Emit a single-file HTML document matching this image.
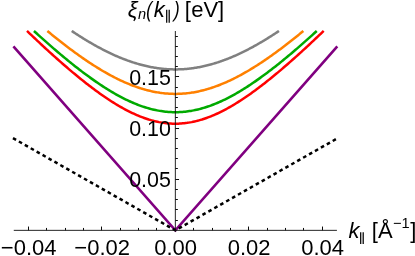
<!DOCTYPE html>
<html><head><meta charset="utf-8"><title>plot</title>
<style>html,body{margin:0;padding:0;background:#fff;}body{width:415px;height:256px;overflow:hidden;}svg{display:block;will-change:transform;opacity:0.999;}text{font-family:"Liberation Sans",sans-serif;fill:#000;}</style>
</head><body>
<svg width="415" height="256" viewBox="0 0 415 256">
<rect width="415" height="256" fill="#fff"/>
<path d="M13.40 46.41 L175.35 230.35 L337.30 46.41" fill="none" stroke="#800080" stroke-width="2.60" stroke-linejoin="miter"/>
<path d="M12.96 138.13 L175.35 230.35 L336.49 138.84" fill="none" stroke="#000" stroke-width="2.5" stroke-dasharray="3.6 3.21" stroke-linejoin="miter"/>
<path d="M27.02 30.96 L28.50 32.38 L29.99 33.80 L31.47 35.21 L32.95 36.62 L34.44 38.03 L35.92 39.43 L37.40 40.82 L38.89 42.21 L40.37 43.60 L41.85 44.98 L43.34 46.35 L44.82 47.72 L46.30 49.09 L47.79 50.45 L49.27 51.80 L50.75 53.15 L52.24 54.49 L53.72 55.83 L55.20 57.16 L56.69 58.48 L58.17 59.80 L59.65 61.11 L61.14 62.42 L62.62 63.72 L64.10 65.01 L65.59 66.29 L67.07 67.57 L68.55 68.84 L70.04 70.10 L71.52 71.35 L73.00 72.60 L74.49 73.83 L75.97 75.06 L77.45 76.28 L78.94 77.49 L80.42 78.70 L81.90 79.89 L83.39 81.07 L84.87 82.25 L86.35 83.41 L87.84 84.57 L89.32 85.71 L90.80 86.84 L92.29 87.96 L93.77 89.07 L95.25 90.17 L96.73 91.26 L98.22 92.34 L99.70 93.40 L101.18 94.45 L102.67 95.49 L104.15 96.51 L105.63 97.52 L107.12 98.52 L108.60 99.50 L110.08 100.47 L111.57 101.43 L113.05 102.37 L114.53 103.29 L116.02 104.20 L117.50 105.09 L118.98 105.96 L120.47 106.82 L121.95 107.66 L123.43 108.49 L124.92 109.29 L126.40 110.08 L127.88 110.85 L129.37 111.60 L130.85 112.33 L132.33 113.05 L133.82 113.74 L135.30 114.41 L136.78 115.06 L138.27 115.69 L139.75 116.30 L141.23 116.88 L142.72 117.45 L144.20 117.99 L145.68 118.51 L147.17 119.00 L148.65 119.48 L150.13 119.92 L151.62 120.35 L153.10 120.75 L154.58 121.13 L156.07 121.48 L157.55 121.80 L159.03 122.11 L160.52 122.38 L162.00 122.63 L163.48 122.86 L164.97 123.05 L166.45 123.23 L167.93 123.37 L169.42 123.49 L170.90 123.58 L172.38 123.65 L173.87 123.69 L175.35 123.70 L176.83 123.69 L178.32 123.65 L179.80 123.58 L181.28 123.49 L182.77 123.37 L184.25 123.23 L185.73 123.05 L187.22 122.86 L188.70 122.63 L190.18 122.38 L191.67 122.11 L193.15 121.80 L194.63 121.48 L196.12 121.13 L197.60 120.75 L199.08 120.35 L200.57 119.92 L202.05 119.48 L203.53 119.00 L205.02 118.51 L206.50 117.99 L207.98 117.45 L209.47 116.88 L210.95 116.30 L212.43 115.69 L213.92 115.06 L215.40 114.41 L216.88 113.74 L218.37 113.05 L219.85 112.33 L221.33 111.60 L222.82 110.85 L224.30 110.08 L225.78 109.29 L227.27 108.49 L228.75 107.66 L230.23 106.82 L231.72 105.96 L233.20 105.09 L234.68 104.20 L236.17 103.29 L237.65 102.37 L239.13 101.43 L240.62 100.47 L242.10 99.50 L243.58 98.52 L245.07 97.52 L246.55 96.51 L248.03 95.49 L249.52 94.45 L251.00 93.40 L252.48 92.34 L253.97 91.26 L255.45 90.17 L256.93 89.07 L258.41 87.96 L259.90 86.84 L261.38 85.71 L262.86 84.57 L264.35 83.41 L265.83 82.25 L267.31 81.07 L268.80 79.89 L270.28 78.70 L271.76 77.49 L273.25 76.28 L274.73 75.06 L276.21 73.83 L277.70 72.60 L279.18 71.35 L280.66 70.10 L282.15 68.84 L283.63 67.57 L285.11 66.29 L286.60 65.01 L288.08 63.72 L289.56 62.42 L291.05 61.11 L292.53 59.80 L294.01 58.48 L295.50 57.16 L296.98 55.83 L298.46 54.49 L299.95 53.15 L301.43 51.80 L302.91 50.45 L304.40 49.09 L305.88 47.72 L307.36 46.35 L308.85 44.98 L310.33 43.60 L311.81 42.21 L313.30 40.82 L314.78 39.43 L316.26 38.03 L317.75 36.62 L319.23 35.21 L320.71 33.80 L322.20 32.38 L323.68 30.96" fill="none" stroke="#ff0000" stroke-width="2.50" stroke-linejoin="round" stroke-linecap="butt"/>
<path d="M33.94 30.96 L35.35 32.25 L36.77 33.54 L38.18 34.82 L39.59 36.10 L41.01 37.37 L42.42 38.64 L43.84 39.90 L45.25 41.16 L46.67 42.41 L48.08 43.66 L49.49 44.90 L50.91 46.13 L52.32 47.36 L53.74 48.59 L55.15 49.80 L56.56 51.02 L57.98 52.22 L59.39 53.42 L60.81 54.61 L62.22 55.80 L63.63 56.98 L65.05 58.15 L66.46 59.31 L67.88 60.47 L69.29 61.62 L70.71 62.76 L72.12 63.90 L73.53 65.03 L74.95 66.15 L76.36 67.26 L77.78 68.36 L79.19 69.45 L80.60 70.54 L82.02 71.62 L83.43 72.69 L84.85 73.74 L86.26 74.79 L87.67 75.83 L89.09 76.86 L90.50 77.88 L91.92 78.89 L93.33 79.89 L94.75 80.88 L96.16 81.86 L97.57 82.83 L98.99 83.78 L100.40 84.73 L101.82 85.66 L103.23 86.58 L104.64 87.49 L106.06 88.39 L107.47 89.27 L108.89 90.14 L110.30 91.00 L111.71 91.85 L113.13 92.68 L114.54 93.50 L115.96 94.30 L117.37 95.09 L118.79 95.86 L120.20 96.62 L121.61 97.37 L123.03 98.10 L124.44 98.81 L125.86 99.51 L127.27 100.19 L128.68 100.86 L130.10 101.51 L131.51 102.14 L132.93 102.75 L134.34 103.35 L135.75 103.93 L137.17 104.49 L138.58 105.04 L140.00 105.56 L141.41 106.07 L142.83 106.56 L144.24 107.03 L145.65 107.48 L147.07 107.91 L148.48 108.32 L149.90 108.71 L151.31 109.09 L152.72 109.44 L154.14 109.77 L155.55 110.08 L156.97 110.37 L158.38 110.64 L159.79 110.89 L161.21 111.11 L162.62 111.32 L164.04 111.50 L165.45 111.67 L166.87 111.81 L168.28 111.93 L169.69 112.03 L171.11 112.10 L172.52 112.16 L173.94 112.19 L175.35 112.20 L176.76 112.19 L178.18 112.16 L179.59 112.10 L181.01 112.03 L182.42 111.93 L183.83 111.81 L185.25 111.67 L186.66 111.50 L188.08 111.32 L189.49 111.11 L190.91 110.89 L192.32 110.64 L193.73 110.37 L195.15 110.08 L196.56 109.77 L197.98 109.44 L199.39 109.09 L200.80 108.71 L202.22 108.32 L203.63 107.91 L205.05 107.48 L206.46 107.03 L207.87 106.56 L209.29 106.07 L210.70 105.56 L212.12 105.04 L213.53 104.49 L214.95 103.93 L216.36 103.35 L217.77 102.75 L219.19 102.14 L220.60 101.51 L222.02 100.86 L223.43 100.19 L224.84 99.51 L226.26 98.81 L227.67 98.10 L229.09 97.37 L230.50 96.62 L231.91 95.86 L233.33 95.09 L234.74 94.30 L236.16 93.50 L237.57 92.68 L238.99 91.85 L240.40 91.00 L241.81 90.14 L243.23 89.27 L244.64 88.39 L246.06 87.49 L247.47 86.58 L248.88 85.66 L250.30 84.73 L251.71 83.78 L253.13 82.83 L254.54 81.86 L255.95 80.88 L257.37 79.89 L258.78 78.89 L260.20 77.88 L261.61 76.86 L263.03 75.83 L264.44 74.79 L265.85 73.74 L267.27 72.69 L268.68 71.62 L270.10 70.54 L271.51 69.45 L272.92 68.36 L274.34 67.26 L275.75 66.15 L277.17 65.03 L278.58 63.90 L279.99 62.76 L281.41 61.62 L282.82 60.47 L284.24 59.31 L285.65 58.15 L287.07 56.98 L288.48 55.80 L289.89 54.61 L291.31 53.42 L292.72 52.22 L294.14 51.02 L295.55 49.80 L296.96 48.59 L298.38 47.36 L299.79 46.13 L301.21 44.90 L302.62 43.66 L304.03 42.41 L305.45 41.16 L306.86 39.90 L308.28 38.64 L309.69 37.37 L311.11 36.10 L312.52 34.82 L313.93 33.54 L315.35 32.25 L316.76 30.96" fill="none" stroke="#00aa00" stroke-width="2.50" stroke-linejoin="round" stroke-linecap="butt"/>
<path d="M47.35 30.96 L48.63 32.02 L49.91 33.07 L51.19 34.12 L52.47 35.16 L53.75 36.20 L55.03 37.23 L56.31 38.26 L57.59 39.28 L58.87 40.29 L60.15 41.30 L61.43 42.30 L62.71 43.30 L63.99 44.29 L65.27 45.28 L66.55 46.26 L67.83 47.23 L69.11 48.20 L70.39 49.16 L71.67 50.11 L72.95 51.06 L74.23 52.00 L75.51 52.93 L76.79 53.85 L78.07 54.77 L79.35 55.68 L80.63 56.59 L81.91 57.48 L83.19 58.37 L84.47 59.25 L85.75 60.13 L87.03 60.99 L88.31 61.85 L89.59 62.70 L90.87 63.54 L92.15 64.37 L93.43 65.19 L94.71 66.01 L95.99 66.81 L97.27 67.61 L98.55 68.40 L99.83 69.18 L101.11 69.95 L102.39 70.71 L103.67 71.46 L104.95 72.20 L106.23 72.93 L107.51 73.65 L108.79 74.35 L110.07 75.05 L111.35 75.74 L112.63 76.42 L113.91 77.09 L115.19 77.75 L116.47 78.39 L117.75 79.02 L119.03 79.65 L120.31 80.26 L121.59 80.86 L122.87 81.45 L124.15 82.02 L125.43 82.59 L126.71 83.14 L127.99 83.68 L129.27 84.20 L130.55 84.72 L131.83 85.22 L133.11 85.71 L134.39 86.18 L135.67 86.65 L136.95 87.10 L138.23 87.53 L139.51 87.95 L140.79 88.36 L142.07 88.76 L143.35 89.14 L144.63 89.51 L145.91 89.86 L147.19 90.20 L148.47 90.52 L149.75 90.83 L151.03 91.13 L152.31 91.41 L153.59 91.68 L154.87 91.93 L156.15 92.17 L157.43 92.39 L158.71 92.59 L159.99 92.79 L161.27 92.96 L162.55 93.13 L163.83 93.27 L165.11 93.40 L166.39 93.52 L167.67 93.62 L168.95 93.70 L170.23 93.77 L171.51 93.83 L172.79 93.87 L174.07 93.89 L175.35 93.90 L176.63 93.89 L177.91 93.87 L179.19 93.83 L180.47 93.77 L181.75 93.70 L183.03 93.62 L184.31 93.52 L185.59 93.40 L186.87 93.27 L188.15 93.13 L189.43 92.96 L190.71 92.79 L191.99 92.59 L193.27 92.39 L194.55 92.17 L195.83 91.93 L197.11 91.68 L198.39 91.41 L199.67 91.13 L200.95 90.83 L202.23 90.52 L203.51 90.20 L204.79 89.86 L206.07 89.51 L207.35 89.14 L208.63 88.76 L209.91 88.36 L211.19 87.95 L212.47 87.53 L213.75 87.10 L215.03 86.65 L216.31 86.18 L217.59 85.71 L218.87 85.22 L220.15 84.72 L221.43 84.20 L222.71 83.68 L223.99 83.14 L225.27 82.59 L226.55 82.02 L227.83 81.45 L229.11 80.86 L230.39 80.26 L231.67 79.65 L232.95 79.02 L234.23 78.39 L235.51 77.75 L236.79 77.09 L238.07 76.42 L239.35 75.74 L240.63 75.05 L241.91 74.35 L243.19 73.65 L244.47 72.93 L245.75 72.20 L247.03 71.46 L248.31 70.71 L249.59 69.95 L250.87 69.18 L252.15 68.40 L253.43 67.61 L254.71 66.81 L255.99 66.01 L257.27 65.19 L258.55 64.37 L259.83 63.54 L261.11 62.70 L262.39 61.85 L263.67 60.99 L264.95 60.13 L266.23 59.25 L267.51 58.37 L268.79 57.48 L270.07 56.59 L271.35 55.68 L272.63 54.77 L273.91 53.85 L275.19 52.93 L276.47 52.00 L277.75 51.06 L279.03 50.11 L280.31 49.16 L281.59 48.20 L282.87 47.23 L284.15 46.26 L285.43 45.28 L286.71 44.29 L287.99 43.30 L289.27 42.30 L290.55 41.30 L291.83 40.29 L293.11 39.28 L294.39 38.26 L295.67 37.23 L296.95 36.20 L298.23 35.16 L299.51 34.12 L300.79 33.07 L302.07 32.02 L303.35 30.96" fill="none" stroke="#ff8000" stroke-width="2.50" stroke-linejoin="round" stroke-linecap="butt"/>
<path d="M71.72 30.96 L72.76 31.66 L73.79 32.34 L74.83 33.03 L75.87 33.70 L76.90 34.38 L77.94 35.05 L78.97 35.71 L80.01 36.37 L81.05 37.03 L82.08 37.68 L83.12 38.32 L84.16 38.96 L85.19 39.59 L86.23 40.22 L87.26 40.85 L88.30 41.47 L89.34 42.08 L90.37 42.69 L91.41 43.29 L92.45 43.89 L93.48 44.48 L94.52 45.07 L95.56 45.65 L96.59 46.22 L97.63 46.79 L98.66 47.35 L99.70 47.91 L100.74 48.46 L101.77 49.01 L102.81 49.55 L103.85 50.08 L104.88 50.61 L105.92 51.13 L106.95 51.64 L107.99 52.15 L109.03 52.65 L110.06 53.15 L111.10 53.64 L112.14 54.12 L113.17 54.60 L114.21 55.07 L115.24 55.53 L116.28 55.99 L117.32 56.43 L118.35 56.88 L119.39 57.31 L120.43 57.74 L121.46 58.16 L122.50 58.58 L123.54 58.99 L124.57 59.39 L125.61 59.78 L126.64 60.17 L127.68 60.55 L128.72 60.92 L129.75 61.28 L130.79 61.64 L131.83 61.99 L132.86 62.33 L133.90 62.66 L134.93 62.99 L135.97 63.31 L137.01 63.62 L138.04 63.92 L139.08 64.22 L140.12 64.51 L141.15 64.79 L142.19 65.06 L143.22 65.32 L144.26 65.58 L145.30 65.83 L146.33 66.07 L147.37 66.30 L148.41 66.52 L149.44 66.74 L150.48 66.95 L151.52 67.15 L152.55 67.34 L153.59 67.52 L154.62 67.70 L155.66 67.86 L156.70 68.02 L157.73 68.17 L158.77 68.31 L159.81 68.44 L160.84 68.57 L161.88 68.68 L162.91 68.79 L163.95 68.89 L164.99 68.98 L166.02 69.06 L167.06 69.13 L168.10 69.20 L169.13 69.25 L170.17 69.30 L171.20 69.34 L172.24 69.37 L173.28 69.39 L174.31 69.40 L175.35 69.41 L176.39 69.40 L177.42 69.39 L178.46 69.37 L179.50 69.34 L180.53 69.30 L181.57 69.25 L182.60 69.20 L183.64 69.13 L184.68 69.06 L185.71 68.98 L186.75 68.89 L187.79 68.79 L188.82 68.68 L189.86 68.57 L190.89 68.44 L191.93 68.31 L192.97 68.17 L194.00 68.02 L195.04 67.86 L196.08 67.70 L197.11 67.52 L198.15 67.34 L199.18 67.15 L200.22 66.95 L201.26 66.74 L202.29 66.52 L203.33 66.30 L204.37 66.07 L205.40 65.83 L206.44 65.58 L207.48 65.32 L208.51 65.06 L209.55 64.79 L210.58 64.51 L211.62 64.22 L212.66 63.92 L213.69 63.62 L214.73 63.31 L215.77 62.99 L216.80 62.66 L217.84 62.33 L218.87 61.99 L219.91 61.64 L220.95 61.28 L221.98 60.92 L223.02 60.55 L224.06 60.17 L225.09 59.78 L226.13 59.39 L227.16 58.99 L228.20 58.58 L229.24 58.16 L230.27 57.74 L231.31 57.31 L232.35 56.88 L233.38 56.43 L234.42 55.99 L235.46 55.53 L236.49 55.07 L237.53 54.60 L238.56 54.12 L239.60 53.64 L240.64 53.15 L241.67 52.65 L242.71 52.15 L243.75 51.64 L244.78 51.13 L245.82 50.61 L246.85 50.08 L247.89 49.55 L248.93 49.01 L249.96 48.46 L251.00 47.91 L252.04 47.35 L253.07 46.79 L254.11 46.22 L255.14 45.65 L256.18 45.07 L257.22 44.48 L258.25 43.89 L259.29 43.29 L260.33 42.69 L261.36 42.08 L262.40 41.47 L263.44 40.85 L264.47 40.22 L265.51 39.59 L266.54 38.96 L267.58 38.32 L268.62 37.68 L269.65 37.03 L270.69 36.37 L271.73 35.71 L272.76 35.05 L273.80 34.38 L274.83 33.70 L275.87 33.03 L276.91 32.34 L277.94 31.66 L278.98 30.96" fill="none" stroke="#808080" stroke-width="2.50" stroke-linejoin="round" stroke-linecap="butt"/>
<g stroke="#0c0c0c" stroke-width="0.9" fill="none">
<line x1="13.78" y1="230.35" x2="336.92" y2="230.35"/>
<line x1="175.35" y1="230.35" x2="175.35" y2="31.00"/>
</g>
<g stroke="#0c0c0c" stroke-width="1.0" fill="none">
<line x1="28.50" y1="230.35" x2="28.50" y2="226.55"/>
<line x1="46.50" y1="230.35" x2="46.50" y2="227.95"/>
<line x1="65.50" y1="230.35" x2="65.50" y2="227.95"/>
<line x1="83.50" y1="230.35" x2="83.50" y2="227.95"/>
<line x1="101.50" y1="230.35" x2="101.50" y2="226.55"/>
<line x1="120.50" y1="230.35" x2="120.50" y2="227.95"/>
<line x1="138.50" y1="230.35" x2="138.50" y2="227.95"/>
<line x1="156.50" y1="230.35" x2="156.50" y2="227.95"/>
<line x1="193.50" y1="230.35" x2="193.50" y2="227.95"/>
<line x1="212.50" y1="230.35" x2="212.50" y2="227.95"/>
<line x1="230.50" y1="230.35" x2="230.50" y2="227.95"/>
<line x1="248.50" y1="230.35" x2="248.50" y2="226.55"/>
<line x1="267.50" y1="230.35" x2="267.50" y2="227.95"/>
<line x1="285.50" y1="230.35" x2="285.50" y2="227.95"/>
<line x1="303.50" y1="230.35" x2="303.50" y2="227.95"/>
<line x1="322.50" y1="230.35" x2="322.50" y2="226.55"/>
<line x1="175.35" y1="220.50" x2="177.85" y2="220.50"/>
<line x1="175.35" y1="209.50" x2="177.85" y2="209.50"/>
<line x1="175.35" y1="199.50" x2="177.85" y2="199.50"/>
<line x1="175.35" y1="189.50" x2="177.85" y2="189.50"/>
<line x1="175.35" y1="179.50" x2="179.05" y2="179.50"/>
<line x1="175.35" y1="168.50" x2="177.85" y2="168.50"/>
<line x1="175.35" y1="158.50" x2="177.85" y2="158.50"/>
<line x1="175.35" y1="148.50" x2="177.85" y2="148.50"/>
<line x1="175.35" y1="138.50" x2="177.85" y2="138.50"/>
<line x1="175.35" y1="128.50" x2="179.05" y2="128.50"/>
<line x1="175.35" y1="117.50" x2="177.85" y2="117.50"/>
<line x1="175.35" y1="107.50" x2="177.85" y2="107.50"/>
<line x1="175.35" y1="97.50" x2="177.85" y2="97.50"/>
<line x1="175.35" y1="87.50" x2="177.85" y2="87.50"/>
<line x1="175.35" y1="76.50" x2="179.05" y2="76.50"/>
<line x1="175.35" y1="66.50" x2="177.85" y2="66.50"/>
<line x1="175.35" y1="56.50" x2="177.85" y2="56.50"/>
<line x1="175.35" y1="46.50" x2="177.85" y2="46.50"/>
<line x1="175.35" y1="36.50" x2="177.85" y2="36.50"/>
</g>
<text x="28.69" y="255.3" font-size="22.00" text-anchor="middle">−0.04</text>
<text x="102.17" y="255.3" font-size="22.00" text-anchor="middle">−0.02</text>
<text x="175.65" y="255.3" font-size="22.00" text-anchor="middle">0.00</text>
<text x="249.13" y="255.3" font-size="22.00" text-anchor="middle">0.02</text>
<text x="322.61" y="255.3" font-size="22.00" text-anchor="middle">0.04</text>
<text transform="translate(170.9 186.82) scale(0.975 1)" font-size="22.00" text-anchor="end">0.05</text>
<text transform="translate(170.9 135.70) scale(0.975 1)" font-size="22.00" text-anchor="end">0.10</text>
<text transform="translate(170.9 84.57) scale(0.975 1)" font-size="22.00" text-anchor="end">0.15</text>
<text x="127.81" y="16.50" font-size="22.00" font-style="italic">ξ</text>
<text x="137.96" y="19.30" font-size="14.60" font-style="italic">n</text>
<text transform="translate(145.35 16.50) skewX(-9.0) scale(0.80 1)" font-size="22.00">(</text>
<text x="153.73" y="16.50" font-size="22.00" font-style="italic">k</text>
<g stroke="#000" stroke-width="1.25"><line x1="166.70" y1="9.70" x2="166.70" y2="22.70"/><line x1="169.20" y1="9.70" x2="169.20" y2="22.70"/></g>
<text transform="translate(172.63 16.50) skewX(-9.0) scale(0.80 1)" font-size="22.00">)</text>
<text x="184.73" y="16.50" font-size="22.00">[</text>
<text x="191.17" y="16.50" font-size="22.00">e</text>
<text x="203.50" y="16.50" font-size="22.00">V</text>
<text x="217.93" y="16.50" font-size="22.00">]</text>
<text x="348.43" y="237.60" font-size="22.00" font-style="italic">k</text>
<g stroke="#000" stroke-width="1.25"><line x1="360.70" y1="232.20" x2="360.70" y2="243.90"/><line x1="363.20" y1="232.20" x2="363.20" y2="243.90"/></g>
<text x="371.63" y="237.60" font-size="22.00">[</text>
<text x="378.06" y="237.60" font-size="22.00">Å</text>
<text x="392.98" y="228.40" font-size="14.60">−1</text>
<text x="410.13" y="237.60" font-size="22.00">]</text>
</svg>
</body></html>
